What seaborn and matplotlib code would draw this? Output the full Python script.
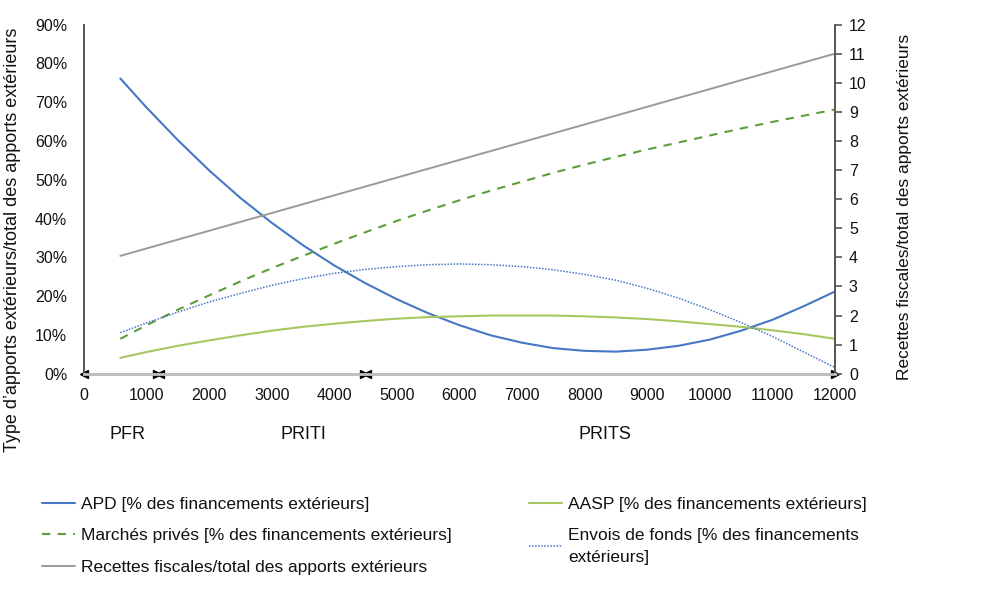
import numpy as np
import pandas as pd
import matplotlib
matplotlib.use("Agg")
import matplotlib.pyplot as plt
import seaborn as sns
from matplotlib.ticker import FuncFormatter

# revenu par habitant (USD) et parts en % des financements extérieurs
revenu = [580, 1000, 1500, 2000, 2500, 3000, 3500, 4000, 4500, 5000, 5500, 6000,
          6500, 7000, 7500, 8000, 8500, 9000, 9500, 10000, 10500, 11000, 11500, 12000]
apd = [76.1, 68.6, 60.2, 52.4, 45.3, 38.9, 33.1, 27.9, 23.3, 19.2, 15.6, 12.5,
       9.9, 8.0, 6.6, 5.9, 5.7, 6.2, 7.2, 8.8, 11.1, 13.9, 17.4, 21.2]
marches = [9.0, 12.5, 16.5, 20.2, 23.8, 27.2, 30.4, 33.5, 36.5, 39.4, 42.1, 44.7,
           47.2, 49.5, 51.8, 53.9, 55.9, 57.8, 59.6, 61.4, 63.2, 64.9, 66.5, 68.1]
envois = [10.6, 13.1, 15.9, 18.5, 20.7, 22.8, 24.5, 25.9, 26.9, 27.6, 28.1, 28.3,
          28.1, 27.6, 26.8, 25.6, 24.1, 22.0, 19.5, 16.5, 13.2, 9.6, 5.6, 1.6]
aasp = [4.1, 5.6, 7.2, 8.6, 9.9, 11.1, 12.1, 12.9, 13.6, 14.2, 14.6, 14.8,
        15.0, 15.0, 15.0, 14.8, 14.5, 14.1, 13.5, 12.8, 12.1, 11.2, 10.2, 9.0]
# ratio recettes fiscales / apports extérieurs (axe de droite)
revenu_recettes = [580, 12000]
recettes = [4.05, 11.0]

groupes = ["PFR", "PRITI", "PRITS"]
groupes_x = [690, 3510, 8320]
segments = [(0, 1170), (1220, 4470), (4520, 12000)]

sns.set_theme(style="white")
plt.rcParams['font.family'] = ['Liberation Sans', 'DejaVu Sans']

fig = plt.figure(figsize=(10, 5.98), dpi=100)
ax = fig.add_axes([0.084, 0.375, 0.751, 0.584])
ax2 = ax.twinx()

c_apd = "#4677C5"
c_mp = "#5E9E3A"
c_aasp = "#A8C661"
c_env = "#4677C5"
c_rec = "#9A9A9A"

sns.lineplot(x=revenu, y=apd, ax=ax, color=c_apd, lw=1.5,
             label="APD [% des financements extérieurs]", legend=False)
sns.lineplot(x=revenu, y=marches, ax=ax, color=c_mp, lw=1.5, linestyle=(0, (4, 3.5)),
             label="Marchés privés [% des financements extérieurs]", legend=False)
sns.lineplot(x=revenu, y=aasp, ax=ax, color=c_aasp, lw=1.5,
             label="AASP [% des financements extérieurs]", legend=False)
sns.lineplot(x=revenu, y=envois, ax=ax, color=c_env, lw=1.1, linestyle=(0, (1, 1)),
             label="Envois de fonds [% des financements\nextérieurs]", legend=False)
sns.lineplot(x=revenu_recettes, y=recettes, ax=ax2, color=c_rec, lw=1.4,
             label="Recettes fiscales/total des apports extérieurs", legend=False)

ax.set_xlim(0, 12000)
ax.set_ylim(0, 90)
ax2.set_ylim(0, 12)
ax.set_xticks(range(0, 12001, 1000))
ax.set_yticks(range(0, 91, 10))
ax.yaxis.set_major_formatter(FuncFormatter(lambda v, p: f"{int(v)}%"))
ax2.set_yticks(range(0, 13))

fs = 11.5
fs_txt = 12.5
ax.tick_params(axis="both", length=0, labelsize=fs, colors="#111111")
ax.tick_params(axis="x", pad=10)
ax.tick_params(axis="y", pad=12)
ax2.tick_params(axis="y", direction="out", length=5, width=1.2, color="#555555",
                labelsize=fs, pad=5, colors="#555555", labelcolor="#111111")

for a in (ax, ax2):
    a.spines["top"].set_visible(False)
    a.spines["bottom"].set_color("#BFBFBF")
    a.spines["bottom"].set_linewidth(2)
    a.spines["left"].set_color("#555555")
    a.spines["right"].set_color("#555555")
    a.spines["left"].set_linewidth(1.2)
    a.spines["right"].set_linewidth(1.2)

# flèches des groupes de revenu
for s0, s1 in segments:
    ax.plot([s0], [0], marker="<", color="black", ms=6, clip_on=False, zorder=5)
    ax.plot([s1], [0], marker=">", color="black", ms=6, clip_on=False, zorder=5)
for g, gx in zip(groupes, groupes_x):
    ax.text(gx, -0.175, g, transform=ax.get_xaxis_transform(), ha="center", va="center",
            fontsize=13, color="#111111")

ax.set_ylabel("Type d’apports extérieurs/total des apports extérieurs", fontsize=13, color="#111111")
ax.yaxis.set_label_coords(-0.084, 0.384)
ax2.set_ylabel("Recettes fiscales/total des apports extérieurs", fontsize=fs_txt, color="#111111")
ax2.yaxis.set_label_coords(1.082, 0.478)

h1, l1 = ax.get_legend_handles_labels()
h2, l2 = ax2.get_legend_handles_labels()
hd = dict(zip(l1 + l2, h1 + h2))
left_labels = [l1[0], l1[1], l2[0]]
right_labels = [l1[2], l1[3]]
leg_kw = dict(loc="upper left", frameon=False, fontsize=fs_txt, handlelength=1.9,
              labelspacing=0.95, handletextpad=0.35, borderpad=0.3)
leg1 = fig.legend([hd[l] for l in left_labels], left_labels,
                  bbox_to_anchor=(0.028, 0.193), **leg_kw)
for t in leg1.get_texts():
    t.set_color("#111111")
leg2 = fig.legend([hd[l] for l in right_labels], right_labels,
                  bbox_to_anchor=(0.515, 0.193), **leg_kw)
for t in leg2.get_texts():
    t.set_color("#111111")
    t.set_linespacing(1.55)

fig.savefig("out.png", dpi=100)
